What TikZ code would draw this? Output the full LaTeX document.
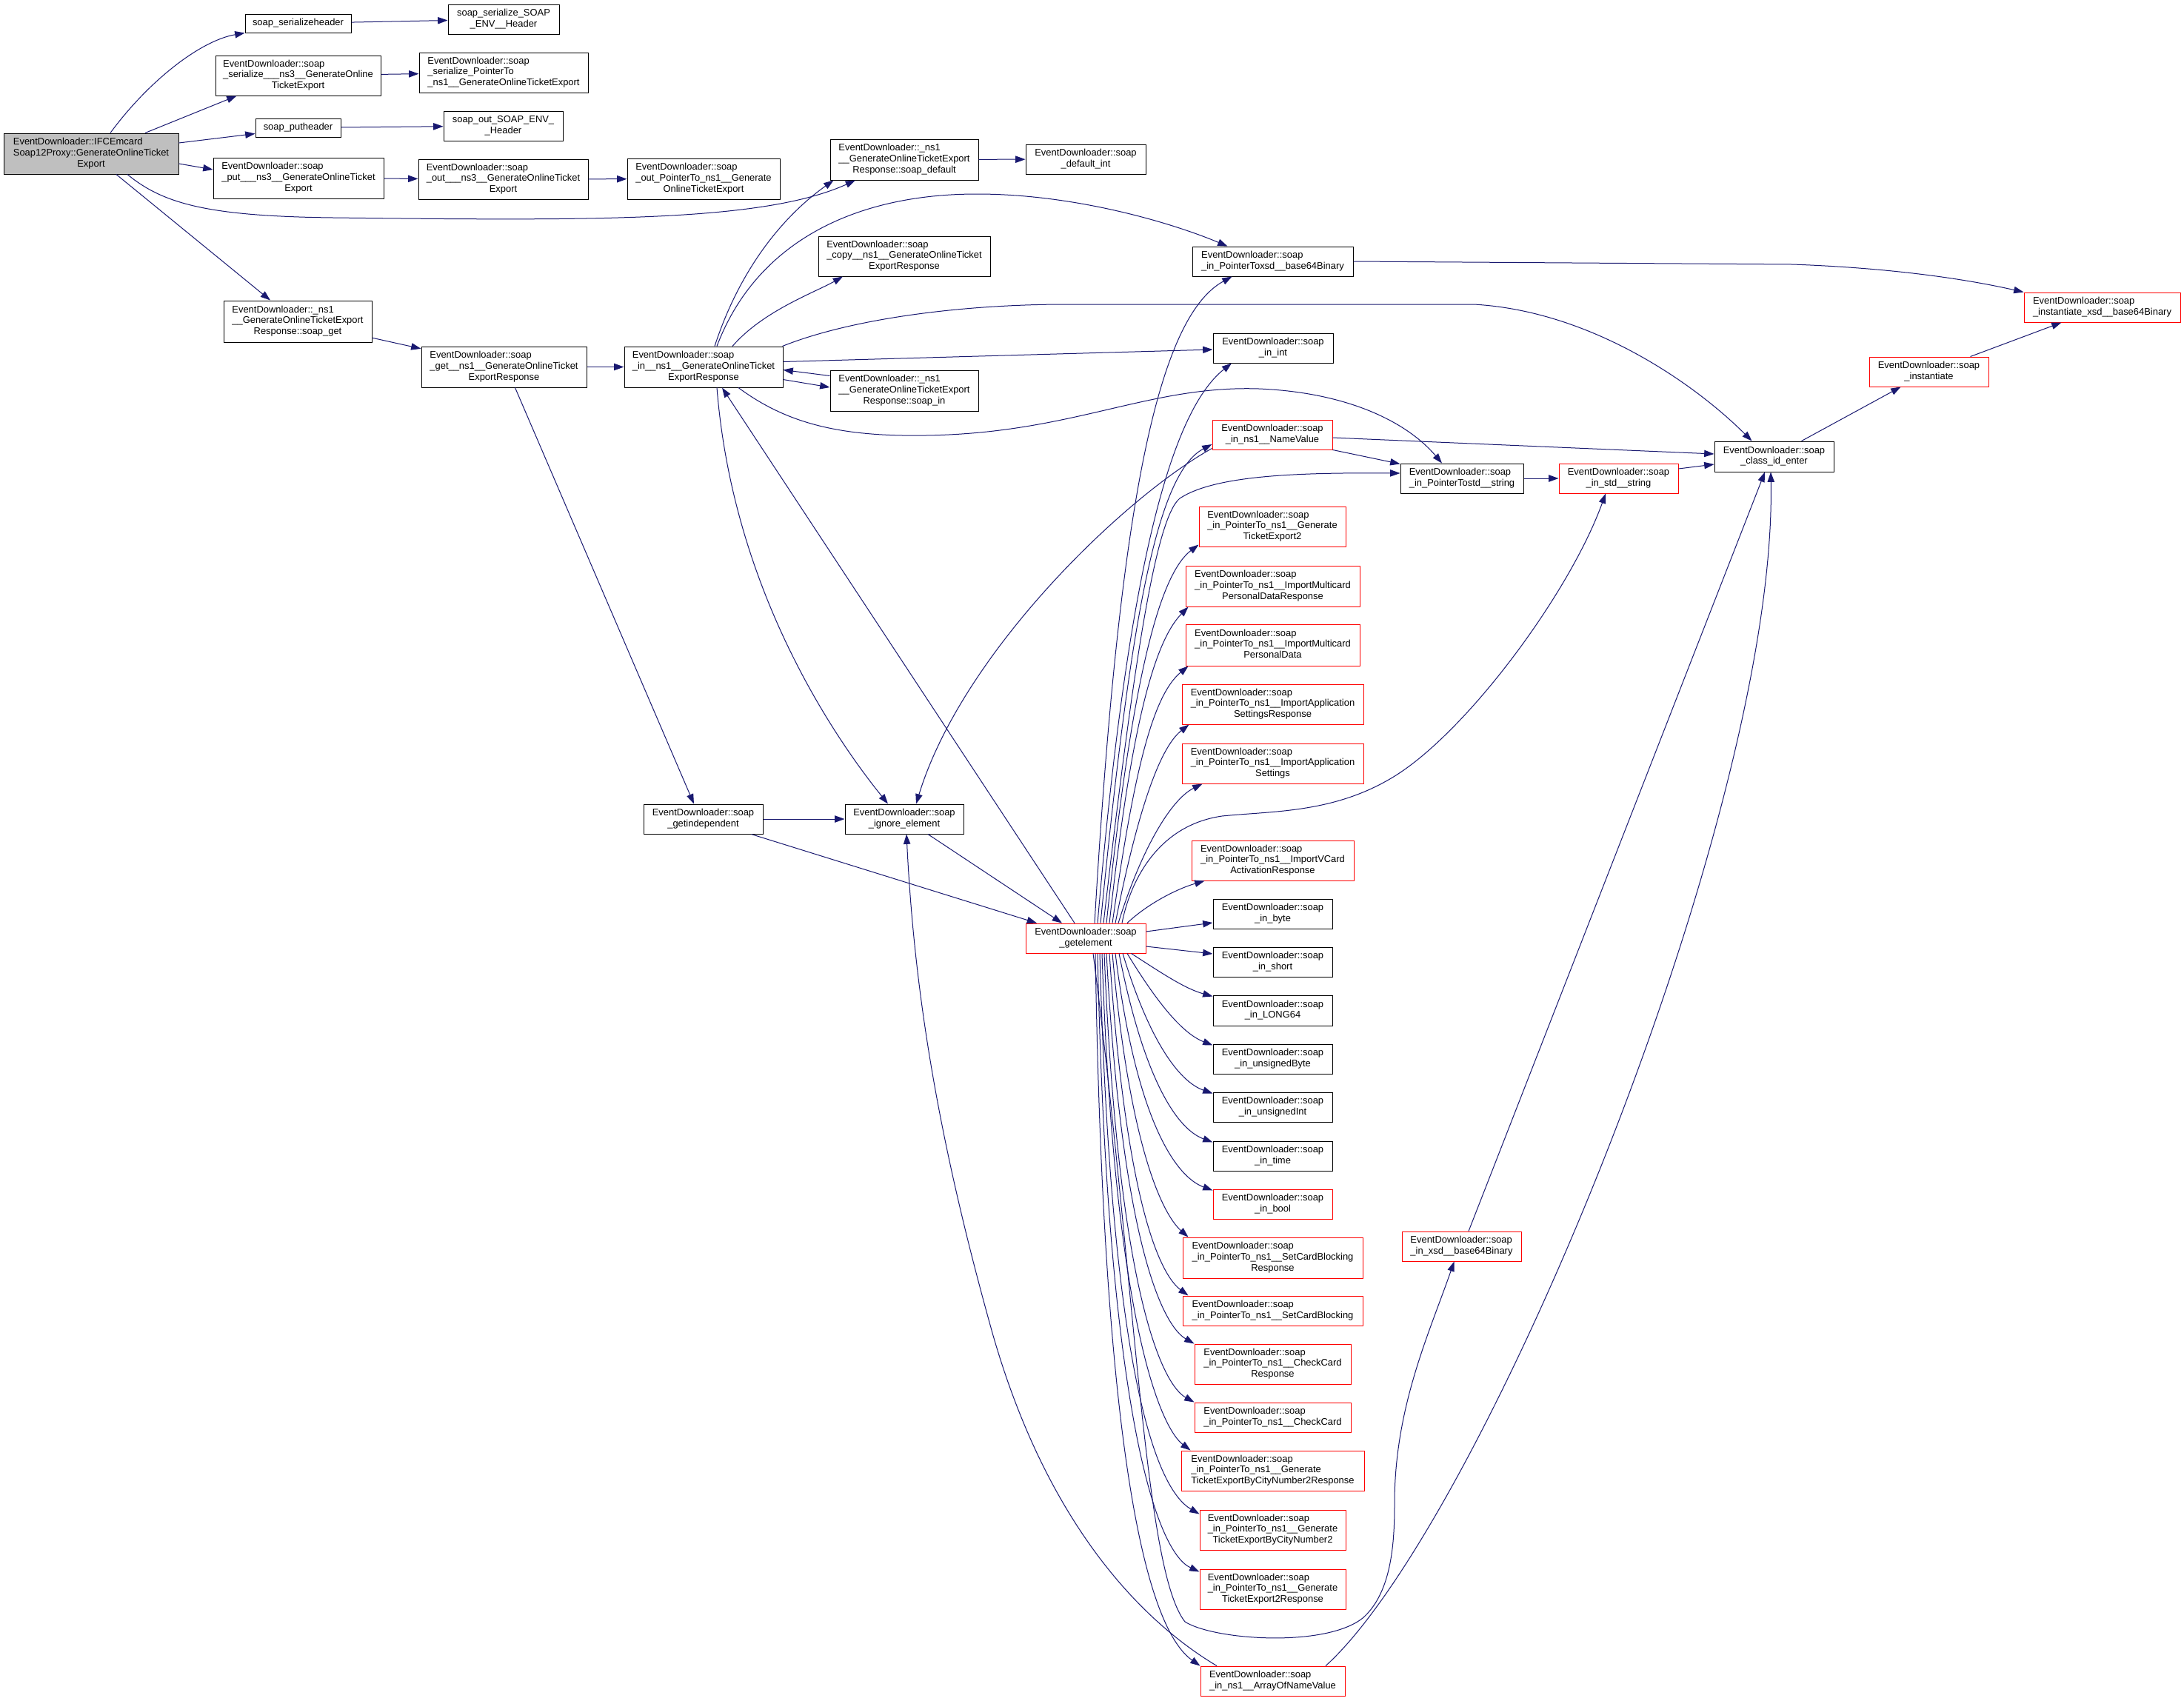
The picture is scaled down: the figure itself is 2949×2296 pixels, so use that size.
\documentclass[tikz,border=0pt]{standalone}
\usepackage{fontspec}
\setmainfont{Liberation Sans}
\usetikzlibrary{arrows.meta,calc}
\definecolor{edgeblue}{HTML}{191970}
\definecolor{nodered}{HTML}{FF0000}
\definecolor{rootgrey}{HTML}{BFBFBF}
\newcommand\twol[2]{\begin{tabular}{@{}l@{}}#1\\\multicolumn{1}{@{}c@{}}{#2}\end{tabular}}
\newcommand\threel[3]{\begin{tabular}{@{}l@{}}#1\\#2\\\multicolumn{1}{@{}c@{}}{#3}\end{tabular}}
\newcommand\nd[7]{\node[#6, minimum width={(#4-#2)*0.75pt}, minimum height={(#5-#3)*0.75pt}] (#1) at ({(#2+#4)/2},{(#3+#5)/2}) {#7};}
\tikzset{
  fn/.style={draw=black, fill=white, line width=0.75pt, inner sep=0pt, font=\fontsize{9.7}{11}\selectfont},
  fnred/.style={fn, draw=nodered},
  fnroot/.style={fn, fill=rootgrey},
  call/.style={draw=edgeblue, line width=0.75pt, -{Triangle[length=10pt,width=7pt]}}
}
\begin{document}
\begin{tikzpicture}[x=0.75pt, y=-0.75pt]
\fill[white] (0,0) rectangle (2949,2296);
% ---- nodes ----
\nd{root}{5}{180}{241}{235}{fnroot}{\threel{EventDownloader::IFCEmcard}{Soap12Proxy::GenerateOnlineTicket}{Export}}
\nd{sh}{331}{19}{474}{44}{fn}{soap\_serializeheader}
\nd{ssh}{605}{6}{755}{46}{fn}{\twol{soap\_serialize\_SOAP}{\_ENV\_\_Header}}
\nd{sns}{291}{75}{514}{129}{fn}{\threel{EventDownloader::soap}{\_serialize\_\_\_ns3\_\_GenerateOnline}{TicketExport}}
\nd{spt}{566}{71}{794}{125}{fn}{\threel{EventDownloader::soap}{\_serialize\_PointerTo}{\_ns1\_\_GenerateOnlineTicketExport}}
\nd{ph}{345}{160}{460}{185}{fn}{soap\_putheader}
\nd{osh}{599}{150}{760}{190}{fn}{\twol{soap\_out\_SOAP\_ENV\_}{\_Header}}
\nd{put}{288}{213}{518}{268}{fn}{\threel{EventDownloader::soap}{\_put\_\_\_ns3\_\_GenerateOnlineTicket}{Export}}
\nd{out}{565}{215}{794}{269}{fn}{\threel{EventDownloader::soap}{\_out\_\_\_ns3\_\_GenerateOnlineTicket}{Export}}
\nd{opt}{847}{214}{1053}{269}{fn}{\threel{EventDownloader::soap}{\_out\_PointerTo\_ns1\_\_Generate}{OnlineTicketExport}}
\nd{def}{1121}{188}{1321}{243}{fn}{\threel{EventDownloader::\_ns1}{\_\_GenerateOnlineTicketExport}{Response::soap\_default}}
\nd{dint}{1385}{195}{1547}{235}{fn}{\twol{EventDownloader::soap}{\_default\_int}}
\nd{copy}{1105}{319}{1337}{373}{fn}{\threel{EventDownloader::soap}{\_copy\_\_ns1\_\_GenerateOnlineTicket}{ExportResponse}}
\nd{pxsd}{1610}{333}{1827}{373}{fn}{\twol{EventDownloader::soap}{\_in\_PointerToxsd\_\_base64Binary}}
\nd{int}{1638}{450}{1800}{490}{fn}{\twol{EventDownloader::soap}{\_in\_int}}
\nd{sin}{1121}{500}{1321}{555}{fn}{\threel{EventDownloader::\_ns1}{\_\_GenerateOnlineTicketExport}{Response::soap\_in}}
\nd{get}{302}{406}{502}{462}{fn}{\threel{EventDownloader::\_ns1}{\_\_GenerateOnlineTicketExport}{Response::soap\_get}}
\nd{gns}{569}{468}{792}{523}{fn}{\threel{EventDownloader::soap}{\_get\_\_ns1\_\_GenerateOnlineTicket}{ExportResponse}}
\nd{ins}{843}{468}{1057}{523}{fn}{\threel{EventDownloader::soap}{\_in\_\_ns1\_\_GenerateOnlineTicket}{ExportResponse}}
\nd{gind}{869}{1086}{1030}{1126}{fn}{\twol{EventDownloader::soap}{\_getindependent}}
\nd{ign}{1141}{1086}{1301}{1126}{fn}{\twol{EventDownloader::soap}{\_ignore\_element}}
\nd{gel}{1385}{1247}{1547}{1287}{fnred}{\twol{EventDownloader::soap}{\_getelement}}
\nd{nv}{1637}{567}{1799}{607}{fnred}{\twol{EventDownloader::soap}{\_in\_ns1\_\_NameValue}}
\nd{pstd}{1891}{626}{2057}{666}{fn}{\twol{EventDownloader::soap}{\_in\_PointerTostd\_\_string}}
\nd{te2}{1619}{684}{1817}{738}{fnred}{\threel{EventDownloader::soap}{\_in\_PointerTo\_ns1\_\_Generate}{TicketExport2}}
\nd{imr}{1601}{764}{1836}{819}{fnred}{\threel{EventDownloader::soap}{\_in\_PointerTo\_ns1\_\_ImportMulticard}{PersonalDataResponse}}
\nd{imp}{1601}{843}{1836}{899}{fnred}{\threel{EventDownloader::soap}{\_in\_PointerTo\_ns1\_\_ImportMulticard}{PersonalData}}
\nd{iasr}{1596}{924}{1841}{978}{fnred}{\threel{EventDownloader::soap}{\_in\_PointerTo\_ns1\_\_ImportApplication}{SettingsResponse}}
\nd{ias}{1596}{1004}{1841}{1058}{fnred}{\threel{EventDownloader::soap}{\_in\_PointerTo\_ns1\_\_ImportApplication}{Settings}}
\nd{ivc}{1609}{1135}{1828}{1189}{fnred}{\threel{EventDownloader::soap}{\_in\_PointerTo\_ns1\_\_ImportVCard}{ActivationResponse}}
\nd{byte}{1638}{1214}{1799}{1254}{fn}{\twol{EventDownloader::soap}{\_in\_byte}}
\nd{short}{1638}{1279}{1799}{1319}{fn}{\twol{EventDownloader::soap}{\_in\_short}}
\nd{lsf}{1638}{1344}{1799}{1385}{fn}{\twol{EventDownloader::soap}{\_in\_LONG64}}
\nd{ub}{1638}{1410}{1799}{1450}{fn}{\twol{EventDownloader::soap}{\_in\_unsignedByte}}
\nd{ui}{1638}{1475}{1799}{1515}{fn}{\twol{EventDownloader::soap}{\_in\_unsignedInt}}
\nd{tim}{1638}{1541}{1799}{1581}{fn}{\twol{EventDownloader::soap}{\_in\_time}}
\nd{boo}{1638}{1606}{1799}{1646}{fnred}{\twol{EventDownloader::soap}{\_in\_bool}}
\nd{scbr}{1597}{1671}{1840}{1726}{fnred}{\threel{EventDownloader::soap}{\_in\_PointerTo\_ns1\_\_SetCardBlocking}{Response}}
\nd{scb}{1597}{1750}{1840}{1790}{fnred}{\twol{EventDownloader::soap}{\_in\_PointerTo\_ns1\_\_SetCardBlocking}}
\nd{xsd}{1893}{1663}{2054}{1703}{fnred}{\twol{EventDownloader::soap}{\_in\_xsd\_\_base64Binary}}
\nd{ccr}{1613}{1815}{1824}{1869}{fnred}{\threel{EventDownloader::soap}{\_in\_PointerTo\_ns1\_\_CheckCard}{Response}}
\nd{cc}{1613}{1894}{1824}{1934}{fnred}{\twol{EventDownloader::soap}{\_in\_PointerTo\_ns1\_\_CheckCard}}
\nd{cnr}{1595}{1959}{1842}{2013}{fnred}{\threel{EventDownloader::soap}{\_in\_PointerTo\_ns1\_\_Generate}{TicketExportByCityNumber2Response}}
\nd{cn}{1620}{2039}{1817}{2093}{fnred}{\threel{EventDownloader::soap}{\_in\_PointerTo\_ns1\_\_Generate}{TicketExportByCityNumber2}}
\nd{ter}{1620}{2119}{1817}{2173}{fnred}{\threel{EventDownloader::soap}{\_in\_PointerTo\_ns1\_\_Generate}{TicketExport2Response}}
\nd{arr}{1621}{2250}{1816}{2290}{fnred}{\twol{EventDownloader::soap}{\_in\_ns1\_\_ArrayOfNameValue}}
\nd{ixb}{2733}{395}{2944}{435}{fnred}{\twol{EventDownloader::soap}{\_instantiate\_xsd\_\_base64Binary}}
\nd{inst}{2524}{482}{2685}{522}{fnred}{\twol{EventDownloader::soap}{\_instantiate}}
\nd{cie}{2315}{596}{2476}{637}{fn}{\twol{EventDownloader::soap}{\_class\_id\_enter}}
\nd{istd}{2105}{626}{2266}{666}{fnred}{\twol{EventDownloader::soap}{\_in\_std\_\_string}}
% ---- edges from root ----
\draw[call] ($(root.north)+(26,0)$) .. controls (200,110) and (270,55) .. (sh.south west);
\draw[call] ($(root.north)+(73,0)$) -- ($(sns.south)+(-83,0)$);
\draw[call] ($(root.east)+(0,-14.5)$) -- ($(ph.west)+(0,8)$);
\draw[call] ($(root.east)+(0,13.5)$) -- ($(put.west)+(0,-11.5)$);
\draw[call] ($(root.south)+(49,0)$) .. controls (220,275) and (280,292) .. (450,294) .. controls (800,298) and (1030,300) .. ($(def.south)+(-66,0)$);
\draw[call] ($(root.south)+(34,0)$) -- ($(get.north)+(-37,0)$);
% ---- simple chains ----
\draw[call] (sh) -- (ssh);
\draw[call] (sns) -- (spt);
\draw[call] (ph) -- (osh);
\draw[call] (put) -- (out);
\draw[call] (out) -- (opt);
\draw[call] (def) -- (dint);
\draw[call] (get) -- (gns);
\draw[call] (gns) -- (ins);
\draw[call] ($(gns.south)+(15,0)$) -- ($(gind.north)+(-12.5,0)$);
\draw[call] (gind) -- (ign);
\draw[call] ($(gind.south)+(65,0)$) -- ($(gel.north)+(-66,0)$);
\draw[call] ($(ign.south)+(32,0)$) -- ($(gel.north)+(-32,0)$);
% ---- from soap_in__ns1__GenerateOnlineTicketExportResponse ----
\draw[call] ($(ins.north)+(15,0)$) .. controls (1000,360) and (1060,290) .. ($(def.south west)+(5,0)$);
\draw[call] ($(ins.north)+(39,0)$) .. controls (1030,420) and (1100,395) .. ($(copy.south)+(-83,0)$);
\draw[call] ($(ins.north)+(18,0)$) .. controls (1020,330) and (1150,262) .. (1319,262) .. controls (1450,262) and (1580,300) .. ($(pxsd.north)+(-61,0)$);
\draw[call] ($(ins.north east)+(-1,0)$) .. controls (1150,430) and (1300,411) .. (1440,411) -- (1990,411) .. controls (2150,420) and (2290,520) .. ($(cie.north)+(-30,0)$);
\draw[call] ($(ins.east)+(0,-7)$) -- ($(int.west)+(0,2)$);
\draw[call] ($(ins.east)+(0,17)$) -- ($(sin.west)+(0,-4.5)$);
\draw[call] ($(sin.west)+(0,-20)$) -- ($(ins.east)+(0,4)$);
\draw[call] ($(ins.south)+(18,0)$) .. controls (990,800) and (1130,1000) .. ($(ign.north)+(-22,0)$);
\draw[call] ($(ins.south)+(47,0)$) .. controls (1060,570) and (1130,590) .. (1250,588) .. controls (1450,585) and (1550,520) .. (1700,525) .. controls (1820,530) and (1900,570) .. ($(pstd.north)+(-27,0)$);
% ---- from soap_getelement ----
\draw[call] ($(gel.north)+(-15,0)$) -- ($(ins.south)+(25,0)$);
\draw[call] ($(gel.north)+(12,0)$) .. controls (1510,700) and (1560,430) .. ($(pxsd.south)+(-55,0)$);
\draw[call] ($(gel.north)+(16,0)$) .. controls (1520,800) and (1575,560) .. ($(int.south)+(-56,0)$);
\draw[call] ($(gel.north)+(20,0)$) .. controls (1525,850) and (1560,640) .. ($(nv.west)+(0,13)$);
\draw[call] ($(gel.north)+(24,0)$) .. controls (1530,900) and (1560,700) .. (1593,673) .. controls (1640,642) and (1750,638) .. ($(pstd.west)+(0,-7)$);
\draw[call] ($(gel.north)+(28,0)$) .. controls (1525,950) and (1560,780) .. ($(te2.south west)+(0,-3)$);
\draw[call] ($(gel.north)+(32,0)$) .. controls (1525,1000) and (1555,870) .. ($(imr.south west)+(4,0)$);
\draw[call] ($(gel.north)+(36,0)$) .. controls (1530,1050) and (1555,940) .. ($(imp.south west)+(4,0)$);
\draw[call] ($(gel.north)+(40,0)$) .. controls (1535,1100) and (1565,1010) .. ($(iasr.south west)+(10,0)$);
\draw[call] ($(gel.north)+(44,0)$) .. controls (1540,1150) and (1580,1080) .. ($(ias.south west)+(28,0)$);
\draw[call] ($(gel.north)+(49,0)$) .. controls (1525,1195) and (1560,1115) .. (1650,1102) .. controls (1720,1095) and (1800,1098) .. (1880,1050) .. controls (1980,990) and (2120,800) .. ($(istd.south)+(-17.5,0)$);
\draw[call] ($(gel.north)+(56,0)$) .. controls (1550,1220) and (1590,1200) .. ($(ivc.south west)+(18,0)$);
\draw[call] ($(gel.east)+(0,-9)$) -- ($(byte.west)+(0,12)$);
\draw[call] ($(gel.east)+(0,11)$) -- ($(short.west)+(0,-11)$);
\draw[call] ($(gel.south east)+(-20,0)$) .. controls (1570,1315) and (1600,1335) .. ($(lsf.north west)+(0,2)$);
\draw[call] ($(gel.south)+(56,0)$) .. controls (1560,1350) and (1595,1395) .. ($(ub.north west)+(0,2)$);
\draw[call] ($(gel.south)+(50,0)$) .. controls (1550,1400) and (1590,1460) .. ($(ui.north west)+(0,2)$);
\draw[call] ($(gel.south)+(45,0)$) .. controls (1545,1460) and (1590,1525) .. ($(tim.north west)+(0,2)$);
\draw[call] ($(gel.south)+(40,0)$) .. controls (1535,1520) and (1590,1590) .. ($(boo.north west)+(0,2)$);
\draw[call] ($(gel.south)+(36,0)$) .. controls (1525,1550) and (1570,1640) .. ($(scbr.north west)+(8,0)$);
\draw[call] ($(gel.south)+(32,0)$) .. controls (1520,1620) and (1565,1720) .. ($(scb.north west)+(8,0)$);
\draw[call] ($(gel.south)+(28,0)$) .. controls (1515,1680) and (1570,1790) .. (ccr.north west);
\draw[call] ($(gel.south)+(25,0)$) .. controls (1510,1750) and (1570,1870) .. (cc.north west);
\draw[call] ($(gel.south)+(22,0)$) .. controls (1505,1800) and (1570,1930) .. ($(cnr.north west)+(13,0)$);
\draw[call] ($(gel.south)+(19,0)$) .. controls (1500,1850) and (1560,2010) .. ($(cn.north west)+(0,6)$);
\draw[call] ($(gel.south)+(16,0)$) .. controls (1495,1900) and (1560,2095) .. ($(ter.north west)+(0,4)$);
\draw[call] ($(gel.south)+(13,0)$) .. controls (1490,1980) and (1550,2200) .. (arr.north west);
\draw[call] ($(gel.south)+(10,0)$) .. controls (1535,1750) and (1545,2120) .. (1600,2190) .. controls (1640,2215) and (1790,2225) .. (1840,2185) .. controls (1880,2150) and (1883,2080) .. (1883,2030) .. controls (1883,1900) and (1930,1800) .. ($(xsd.south)+(-10,0)$);
% ---- right side ----
\draw[call] ($(nv.south west)+(0,-2)$) .. controls (1520,670) and (1300,880) .. ($(ign.north)+(16,0)$);
\draw[call] ($(nv.east)+(0,4)$) -- ($(cie.west)+(0,-3.5)$);
\draw[call] (nv.south east) -- ($(pstd.north west)+(0,1)$);
\draw[call] (pstd) -- (istd);
\draw[call] ($(istd.east)+(0,-13)$) -- ($(cie.west)+(0,10.5)$);
\draw[call] (pxsd.east) -- (2420,357) .. controls (2560,362) and (2660,378) .. (ixb.north west);
\draw[call] ($(cie.north)+(37,0)$) -- ($(inst.south)+(-38,0)$);
\draw[call] ($(inst.north)+(56,0)$) -- ($(ixb.south)+(-55,0)$);
\draw[call] ($(xsd.north)+(9.5,0)$) -- ($(cie.south)+(-12.5,0)$);
\draw[call] ($(arr.north)+(71.5,0)$) .. controls (2000,2060) and (2400,1100) .. ($(cie.south)+(-4.5,0)$);
\draw[call] ($(arr.north)+(-75.5,0)$) .. controls (1560,2200) and (1420,2080) .. (1340,1800) .. controls (1270,1550) and (1235,1350) .. ($(ign.south)+(3,0)$);
\end{tikzpicture}
\end{document}
